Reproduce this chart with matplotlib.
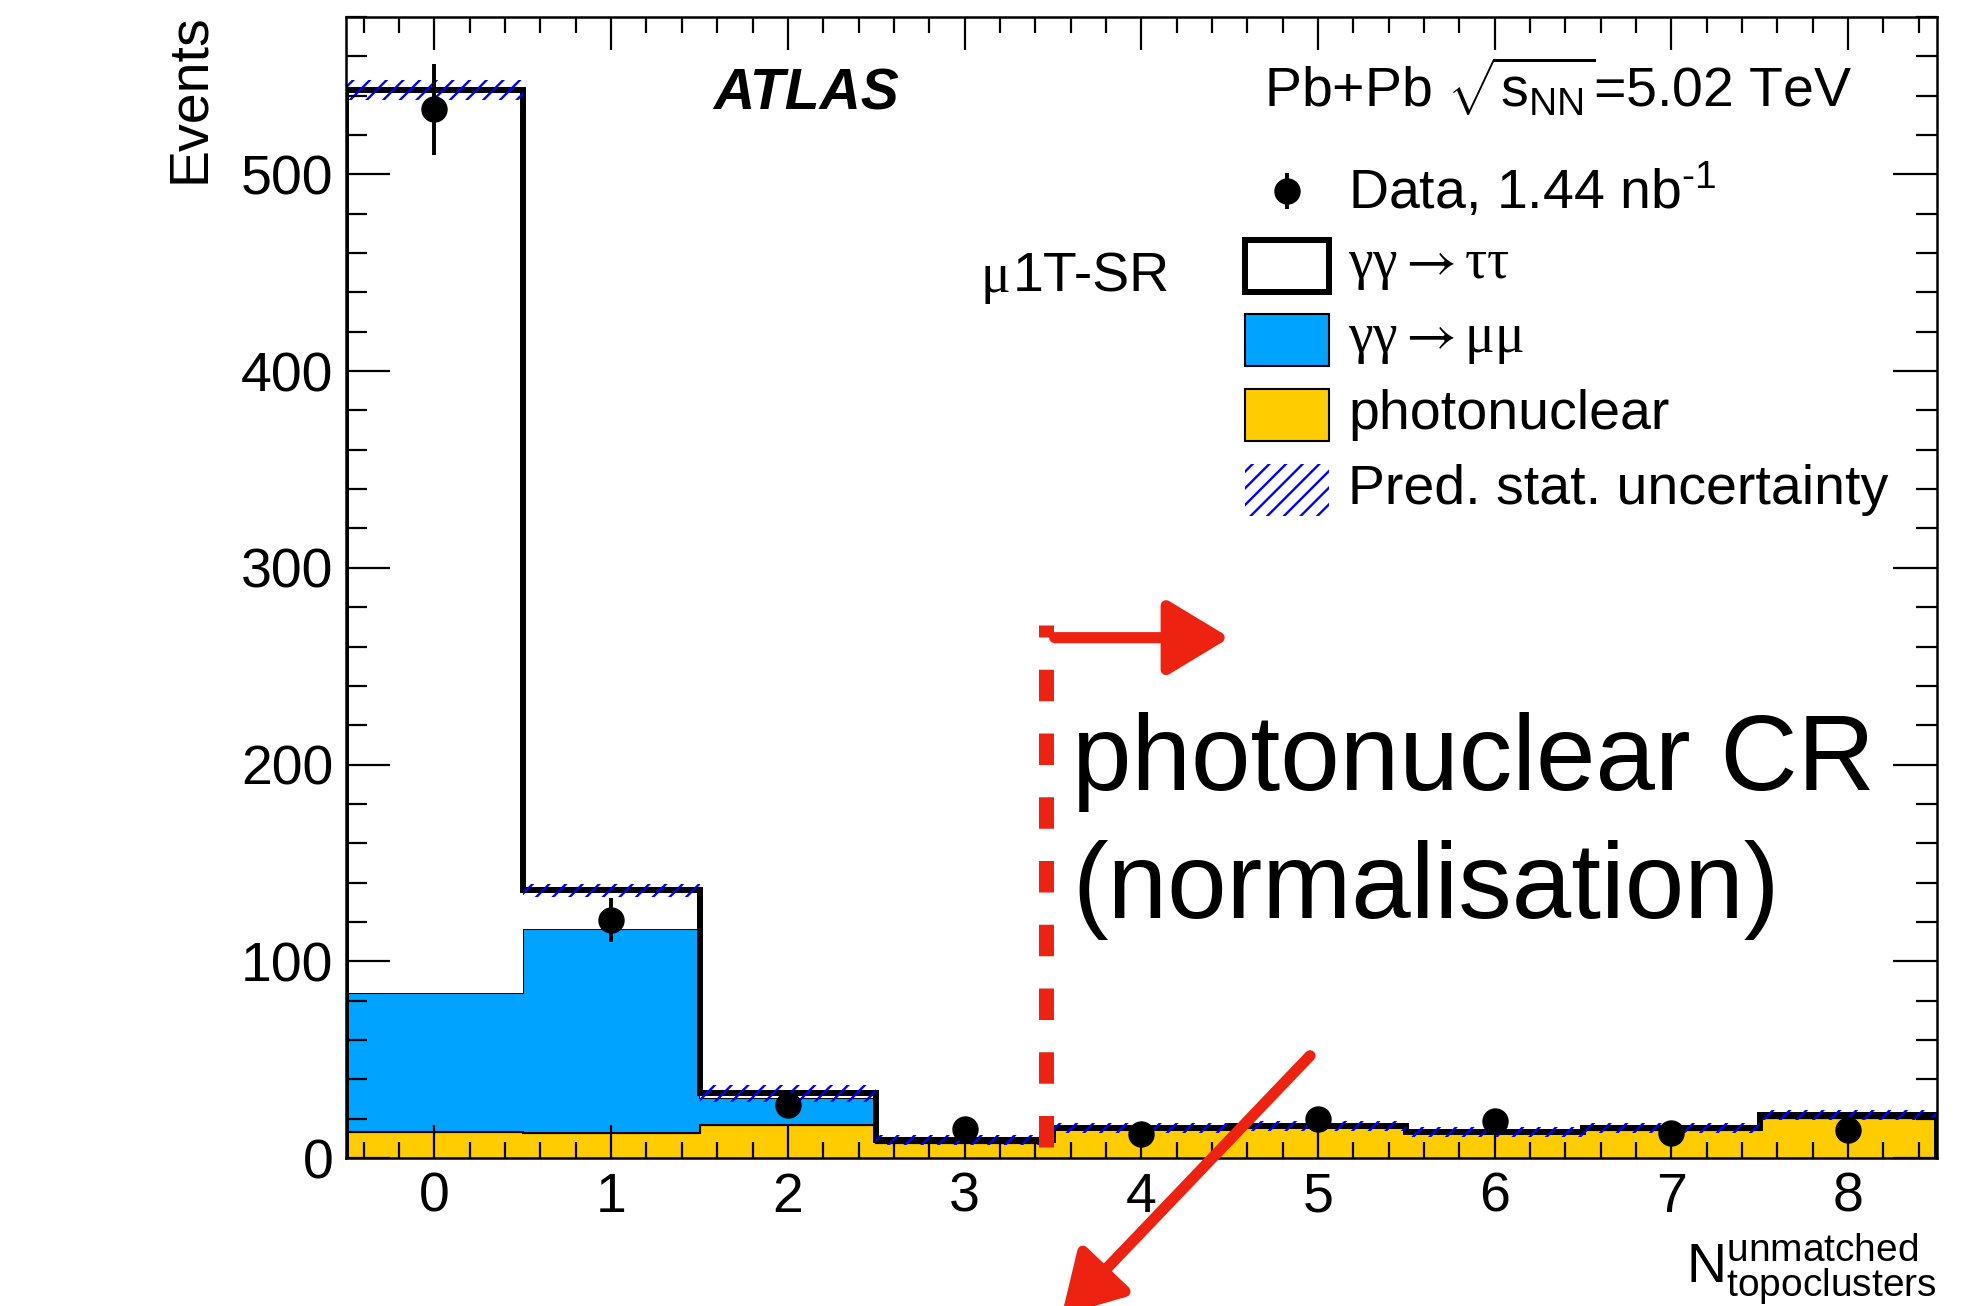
import numpy as np
import matplotlib

matplotlib.use("Agg")
import matplotlib.pyplot as plt  # noqa: E402
from matplotlib.patches import Rectangle  # noqa: E402

YELLOW = "#ffcc00"
BLUE = "#00a3ff"
RED = "#ee2211"
HATCH = "#0000ff"

plt.rcParams["font.family"] = ["Liberation Sans", "DejaVu Sans"]
plt.rcParams["mathtext.fontset"] = "custom"
plt.rcParams["mathtext.rm"] = "Liberation Sans"
plt.rcParams["mathtext.it"] = "Liberation Sans:italic"
plt.rcParams["mathtext.bf"] = "Liberation Sans:bold"
plt.rcParams["hatch.linewidth"] = 1.7

# number of unmatched topoclusters (bin centres)
n_clusters = [0, 1, 2, 3, 4, 5, 6, 7, 8]
photonuclear = [13.4, 12.6, 16.8, 7.6, 14.6, 15.6, 12.8, 14.5, 20.3]
gg_mumu = [70.4, 103.9, 13.7, 0.4, 0.1, 0.1, 0.1, 0.1, 0.2]
gg_tautau = [459.2, 19.5, 2.5, 1.2, 0.6, 0.6, 0.5, 0.5, 1.4]
pred_stat_unc = [5.0, 3.2, 4.3, 2.5, 2.5, 2.5, 2.5, 2.5, 2.5]
data = [533, 121, 27, 15, 12, 20, 19, 12.5, 14]
data_err = [23, 11, 5.2, 3.9, 3.5, 4.5, 4.4, 3.5, 3.7]

centers = np.array(n_clusters, dtype=float)
edges = np.append(centers - 0.5, centers[-1] + 0.5)
stack1 = np.array(photonuclear)
stack2 = stack1 + np.array(gg_mumu)
total = stack2 + np.array(gg_tautau)
unc = np.array(pred_stat_unc)

fig = plt.figure(figsize=(19.72, 13.06), dpi=100)
ax = fig.add_axes([0.1755, 0.1133, 0.8065, 0.8737])

ax.stairs(stack1, edges, baseline=0, fill=True, facecolor=YELLOW,
          edgecolor="black", linewidth=1.5, zorder=1)
ax.stairs(stack2, edges, baseline=stack1, fill=True, facecolor=BLUE,
          edgecolor="black", linewidth=1.5, zorder=1)
ax.stairs(total, edges, baseline=stack2, fill=True, facecolor="white",
          edgecolor="none", zorder=1)
ax.stairs(total, edges, baseline=0, fill=False, color="black",
          linewidth=4.3, zorder=1.5)
ax.bar(centers, 2 * unc, bottom=total - unc, width=1.0, facecolor="none",
       edgecolor=HATCH, hatch="//", linewidth=0, zorder=1.6)
ax.errorbar(centers, data, yerr=data_err, fmt="o", color="black", ms=18,
            elinewidth=2.8, capsize=0, zorder=5)

ax.set_xlim(-0.5, 8.5)
ax.set_ylim(0, 580)
ax.set_xticks(centers)
ax.set_xticks(np.arange(-0.4, 8.5, 0.2), minor=True)
ax.set_yticks(np.arange(0, 501, 100))
ax.set_yticks(np.arange(0, 581, 20), minor=True)
ax.tick_params(which="both", direction="in", top=True, right=True,
               width=1.6, labelsize=40)
ax.tick_params(axis="x", which="major", length=24, pad=10)
ax.tick_params(axis="x", which="minor", length=11.5)
ax.tick_params(axis="y", which="major", length=32, pad=9)
ax.tick_params(axis="y", which="minor", length=15)
for s in ax.spines.values():
    s.set_linewidth(1.8)
ax.set_axisbelow(False)

ax.set_ylabel("Events", loc="top", fontsize=40)
ax.yaxis.set_label_coords(-0.082, 1.003)
ax.set_xlabel(r"$\mathrm{N}^{\mathrm{unmatched}}_{\mathrm{topoclusters}}$",
              loc="right", fontsize=40)
ax.xaxis.set_label_coords(1.0, -0.065)

# labels
ax.text(0.231, 0.919, "ATLAS", transform=ax.transAxes, fontsize=41,
        fontweight="bold", style="italic", va="baseline")
ax.text(0.577, 0.921, r"Pb+Pb $\sqrt{\mathrm{s}_{\mathrm{NN}}}$=5.02 TeV",
        transform=ax.transAxes, fontsize=40, va="baseline")
mu = ax.text(0.399, 0.759, "μ", transform=ax.transAxes, fontsize=40,
             family=["Liberation Serif"], va="baseline")
ax.annotate("1T-SR", xy=(1.0, 0.0), xycoords=mu, xytext=(2, 0),
            textcoords="offset points", fontsize=40, va="bottom", ha="left")

# legend, drawn by hand in axes coordinates
leg_x, leg_top, leg_step = 0.565, 0.8475, 0.0655
box_w, box_h = 0.0528, 0.0456
text_x = 0.630
rows = [leg_top - i * leg_step for i in range(5)]
ax.errorbar([leg_x + box_w / 2], [rows[0]], yerr=[0.016], fmt="o",
            color="black", ms=18, elinewidth=2.8, capsize=0,
            transform=ax.transAxes, clip_on=False)
ax.add_patch(Rectangle((leg_x, rows[1] - box_h / 2), box_w, box_h,
                       transform=ax.transAxes, facecolor="white",
                       edgecolor="black", linewidth=4.3))
ax.add_patch(Rectangle((leg_x, rows[2] - box_h / 2), box_w, box_h,
                       transform=ax.transAxes, facecolor=BLUE,
                       edgecolor="black", linewidth=1.5))
ax.add_patch(Rectangle((leg_x, rows[3] - box_h / 2), box_w, box_h,
                       transform=ax.transAxes, facecolor=YELLOW,
                       edgecolor="black", linewidth=1.5))
ax.add_patch(Rectangle((leg_x, rows[4] - box_h / 2), box_w, box_h,
                       transform=ax.transAxes, facecolor="none",
                       edgecolor=HATCH, hatch="//", linewidth=0))
greek = ["Liberation Serif", "DejaVu Serif"]
ax.text(text_x, rows[0], r"Data, 1.44 nb$^{\text{-1}}$",
        transform=ax.transAxes, fontsize=40, va="center")
ax.text(text_x, rows[1], r"γγ$\rightarrow$ττ", transform=ax.transAxes,
        fontsize=40, family=greek, math_fontfamily="stix", va="center")
ax.text(text_x, rows[2], r"γγ$\rightarrow$μμ", transform=ax.transAxes,
        fontsize=40, family=greek, math_fontfamily="stix", va="center")
ax.text(text_x, rows[3], "photonuclear", transform=ax.transAxes,
        fontsize=40, va="center")
ax.text(text_x, rows[4], "Pred. stat. uncertainty", transform=ax.transAxes,
        fontsize=40, va="center")

# hand-drawn red annotations
ax.plot([3.46, 3.46], [5.5, 271], color=RED, linewidth=10.8,
        dashes=(2.1, 2.15), solid_capstyle="butt", zorder=6)
ax.annotate("", xy=(4.50, 264.5), xytext=(3.51, 264.5),
            arrowprops=dict(arrowstyle="-|>,head_length=3.8,head_width=2.3",
                            mutation_scale=10, lw=8, color=RED,
                            shrinkA=0, shrinkB=0), zorder=6)
ax.annotate("", xy=(3.55, -80), xytext=(4.955, 52),
            arrowprops=dict(arrowstyle="-|>,head_length=3.6,head_width=2.1",
                            mutation_scale=10, lw=8, color=RED,
                            shrinkA=0, shrinkB=0),
            annotation_clip=False, zorder=6)
ax.text(3.61, 187, "photonuclear CR", fontsize=77, va="baseline")
ax.text(3.61, 122, "(normalisation)", fontsize=77, va="baseline")

fig.savefig("out.png", dpi=100)
